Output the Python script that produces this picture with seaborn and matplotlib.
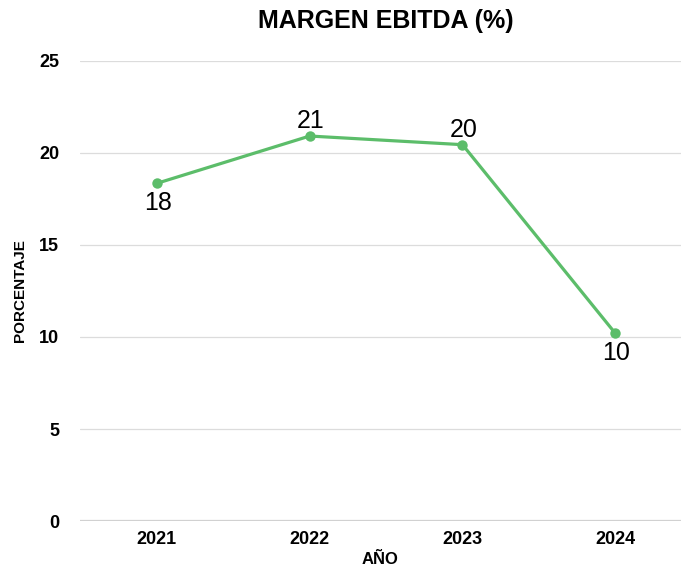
import numpy as np, pandas as pd
import seaborn as sns
import matplotlib.pyplot as plt
plt.switch_backend('agg')

### data ###
anios = ['2021', '2022', '2023', '2024']
margen = [18.35, 20.92, 20.45, 10.2]
etiquetas = ['18', '21', '20', '10']
posicion = ['below', 'above', 'above', 'below']

df = pd.DataFrame({'AÑO': anios, 'PORCENTAJE': margen})

### style ###
sns.set_style('white')
plt.rcParams['font.family'] = ['Liberation Sans Narrow', 'Liberation Sans', 'DejaVu Sans']
plt.rcParams['text.color'] = 'black'
plt.rcParams['axes.labelcolor'] = 'black'
plt.rcParams['xtick.color'] = 'black'
plt.rcParams['ytick.color'] = 'black'
verde = '#5cbd6a'

fig = plt.figure(figsize=(6.81, 5.68), dpi=100)
ax = fig.add_axes([0.1175, 0.0827, 0.8825, 0.81])

sns.lineplot(data=df, x='AÑO', y='PORCENTAJE', ax=ax, color=verde, linewidth=2.3,
             marker='o', markersize=7.5, markeredgewidth=0, sort=False)

for i, (v, lab, pos) in enumerate(zip(margen, etiquetas, posicion)):
	dy = -20 if pos == 'below' else 15
	ax.annotate(lab, (i, v), xytext=(1, dy), textcoords='offset pixels',
	            ha='center', va='center', fontsize=18, color='black')

ax.set_ylim(0, 25)
ax.set_xlim(-0.503, 3.43)
ax.set_yticks([0, 5, 10, 15, 20, 25])
ax.yaxis.grid(True, color='#dcdcdc', linewidth=0.9)
ax.axhline(0, color='#d0d0d0', linewidth=1.6, zorder=0)
for s in ax.spines.values():
	s.set_visible(False)
ax.tick_params(axis='both', length=0, labelsize=13)
ax.tick_params(axis='y', pad=15)
ax.tick_params(axis='x', pad=7)
for t in ax.get_xticklabels() + ax.get_yticklabels():
	t.set_fontweight('bold')

ax.set_xlabel('AÑO', fontsize=12, fontweight='bold', labelpad=3)
ax.set_ylabel('PORCENTAJE', fontsize=11, fontweight='bold', labelpad=9)
fig.suptitle('MARGEN EBITDA (%)', fontsize=18, fontweight='bold', x=0.567, y=0.985)

plt.savefig('out.png', dpi=100)
plt.close()
